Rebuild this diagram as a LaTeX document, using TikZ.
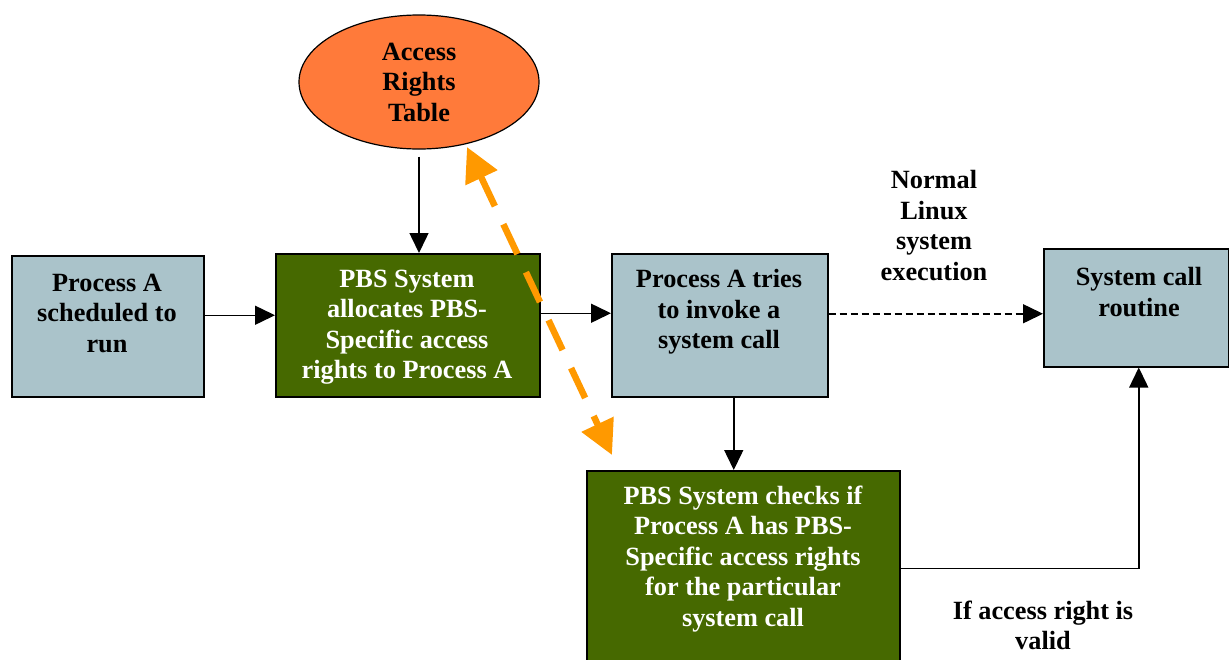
\documentclass[tikz,border=0pt]{standalone}
\usepackage{fontspec}
\setmainfont{Liberation Serif}
\usetikzlibrary{arrows.meta,shapes.geometric}
\definecolor{boxblue}{HTML}{AAC3CA}
\definecolor{boxgreen}{HTML}{466900}
\definecolor{tableorange}{HTML}{FF7A3A}
\definecolor{arrorange}{HTML}{FF9900}
\begin{document}
\begin{tikzpicture}[x=1pt,y=1pt,
  box/.style={draw=black, line width=1.5pt, rectangle, anchor=north west, inner sep=0pt},
  bluebox/.style={box, fill=boxblue},
  greenbox/.style={box, fill=boxgreen},
  txt/.style={font=\fontsize{26.3}{30.5}\selectfont\bfseries, align=center, inner sep=0pt},
  wtxt/.style={txt, text=white},
  conn/.style={line width=1.5pt, -{Triangle[length=20pt,width=19pt]}},
  orangeconn/.style={draw=arrorange, line width=6.5pt, dash pattern=on 33pt off 20pt,
     {Triangle[length=34pt,width=34pt,fill=arrorange]}-{Triangle[length=34pt,width=34pt,fill=arrorange]}},
]
\path[use as bounding box, fill=white] (0,0) rectangle (1229,-659);
% boxes
\node[bluebox, minimum width=192pt, minimum height=141pt] (b1) at (11,-255) {};
\node[greenbox, minimum width=264pt, minimum height=143pt] (b2) at (275,-253) {};
\node[bluebox, minimum width=216pt, minimum height=143pt] (b3) at (611,-253) {};
\node[bluebox, minimum width=185pt, minimum height=118pt] (b4) at (1043,-248) {};
\node[greenbox, minimum width=313pt, minimum height=195pt] (b5) at (586,-470) {};
\node[ellipse, draw=black, line width=1.2pt, fill=tableorange, minimum width=240pt, minimum height=134pt, txt] (tab) at (419,-82) {Access\\Rights\\Table};
% texts
\node[txt] (t1) at (107,-313) {Process A\\scheduled to\\run};
\node[wtxt] (t2) at (407,-327) {PBS System\\allocates PBS-\\Specific access\\rights to Process A};
\node[txt] (t3) at (719,-312) {Process A tries\\to invoke a\\system call};
\node[txt] (t4) at (1139,-292) {System call\\routine};
\node[wtxt] (t5) at (743,-559) {PBS System checks if\\Process A has PBS-\\Specific access rights\\for the particular\\system call};
\node[txt] (l1) at (934,-225.5) {Normal\\Linux\\system\\execution};
\node[txt] (l2) at (1043,-625.5) {If access right is\\valid};
% connectors
\draw[conn] ([yshift=-7pt]tab.south) -- (tab.south |- b2.north);
\draw[conn] ([yshift=11pt]b1.east) -- ([yshift=11pt]b1.east -| b2.west);
\draw[conn] ([yshift=12pt]b2.east) -- ([yshift=12pt]b2.east -| b3.west);
\draw[conn, dash pattern=on 7pt off 4pt] ([yshift=11.5pt]b3.east) -- ([yshift=11.5pt]b3.east -| b4.west);
\draw[conn] ([xshift=14pt]b3.south) -- ([xshift=14pt]b3.south |- b5.north);
\draw[conn] (b5.east) -| ([xshift=2.5pt]b4.south);
% orange double arrow
\coordinate (o1) at (467,-147);
\coordinate (o2) at (612,-455);
\draw[orangeconn] (o1) -- (o2);
\end{tikzpicture}
\end{document}
